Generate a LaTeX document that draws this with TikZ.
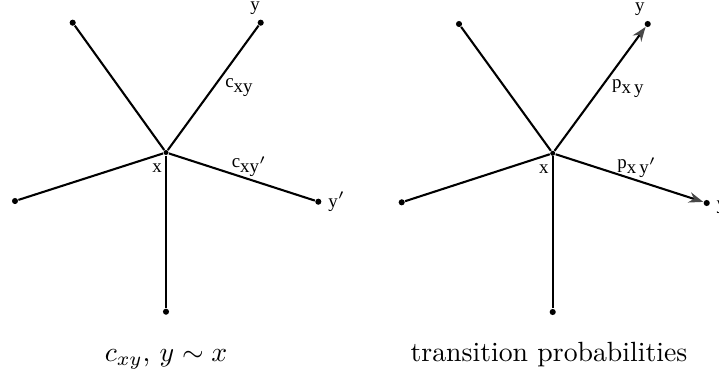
\documentclass[tikz,border=0pt]{standalone}
\usepackage{fontspec}
\usetikzlibrary{arrows.meta, positioning}
\newfontfamily\fuenteRotulo{Liberation Serif}
\definecolor{negroLinea}{HTML}{000000}
\definecolor{grisPunta}{HTML}{484848}
\newcommand{\indice}[1]{\raisebox{-1.8pt}{#1}}
\tikzset{
  punto/.style={circle, fill=negroLinea, inner sep=0pt, minimum size=2.2pt},
  puntoCentro/.style={punto, minimum size=1.8pt},
  arista/.style={line width=0.75pt, draw=negroLinea},
  aristaFlecha/.style={arista, -{Stealth[length=5.2pt, width=3.8pt, color=grisPunta]}},
  rotulo/.style={font=\fuenteRotulo\fontsize{6.8}{7}\selectfont, inner sep=0.5pt, text=negroLinea},
  titulo/.style={font=\normalsize, inner sep=0pt, anchor=base},
}

\begin{document}
\begin{tikzpicture}[x=0.36pt, y=-0.36pt]
    \useasboundingbox (0,0) rectangle (719,379);

    \node[puntoCentro] (xI) at (166,152.5) {};
    \node[punto] (aI) at (72.7,22.7) {};
    \node[punto] (yI) at (260.7,22.7) {};
    \node[punto] (izqI) at (15,201) {};
    \node[punto] (ypI) at (318.3,201.7) {};
    \node[punto] (abI) at (166,311.7) {};

    \node[rotulo, below left=2.5pt and 0pt of xI] (etxI) {x};
    \node[rotulo, above=1pt of yI, xshift=-2pt] (etyI) {y};
    \node[rotulo, right=1.6pt of ypI] (etypI) {y$'$};

    \draw[arista] (xI) -- (aI);
    \draw[arista] (xI) -- node[rotulo, pos=0.5, right=3.5pt] (cI) {c\indice{xy}} (yI);
    \draw[arista] (xI) -- (izqI);
    \draw[arista] (xI) -- node[rotulo, pos=0.55, above=0pt] (cpI) {c\indice{xy$'$}} (ypI);
    \draw[arista] (xI) -- (abI);

    \node[puntoCentro] (xD) at (552.7,153.3) {};
    \node[punto] (aD) at (459,24) {};
    \node[punto] (yD) at (647.7,24) {};
    \node[punto] (izqD) at (401.7,202.3) {};
    \node[punto] (ypD) at (706.7,203) {};
    \node[punto] (abD) at (552.7,312) {};

    \node[rotulo, below left=2.5pt and 0pt of xD] (etxD) {x};
    \node[rotulo, above=1pt of yD, xshift=-2.8pt] (etyD) {y};
    \node[rotulo, right=1.6pt of ypD] (etypD) {y$'$};

    \draw[arista] (xD) -- (aD);
    \draw[aristaFlecha] (xD) -- node[rotulo, pos=0.5, right=3.5pt] (pD) {p\indice{x\,y}} (yD);
    \draw[arista] (xD) -- (izqD);
    \draw[aristaFlecha] (xD) -- node[rotulo, pos=0.55, above=0pt] (ppD) {p\indice{x\,y$'$}} (ypD);
    \draw[arista] (xD) -- (abD);

    \node[titulo] (capI) at (166,361) {$c_{xy}$, $y\sim x$};
    \node[titulo] (capD) at (549,361) {transition probabilities};
\end{tikzpicture}
\end{document}
